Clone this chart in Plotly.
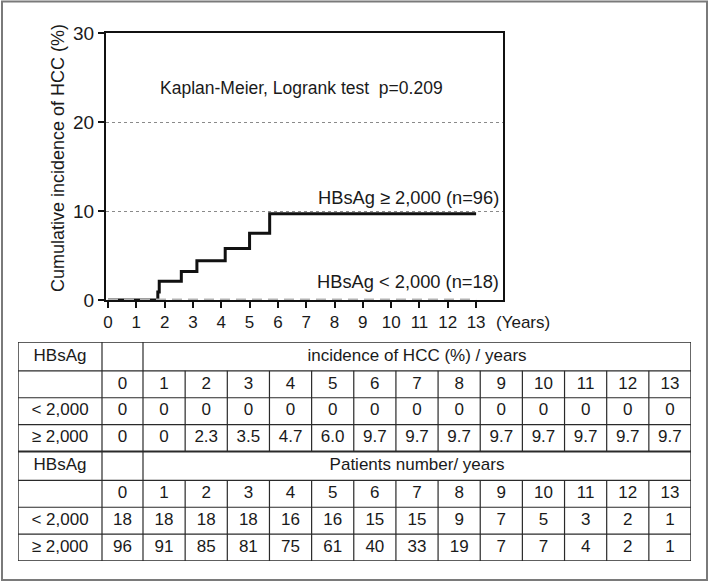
import plotly.graph_objects as go

# ---------------- data ----------------
years = list(range(14))
km_high_t = [0, 1.76, 1.81, 2.59, 3.14, 4.14, 5.0, 5.71, 13]
km_high_y = [0, 0.9, 2.1, 3.2, 4.4, 5.8, 7.5, 9.7, 9.7]
km_low_t = [0, 13]
km_low_y = [0, 0]
inc_low = [0, 0, 0, 0, 0, 0, 0, 0, 0, 0, 0, 0, 0, 0]
inc_high = [0, 0, 2.3, 3.5, 4.7, 6.0, 9.7, 9.7, 9.7, 9.7, 9.7, 9.7, 9.7, 9.7]
risk_low = [18, 18, 18, 18, 16, 16, 15, 15, 9, 7, 5, 3, 2, 1]
risk_high = [96, 91, 85, 81, 75, 61, 40, 33, 19, 7, 7, 4, 2, 1]
group_labels = ["< 2,000", "\u2265 2,000"]
y_ticks = [0, 10, 20, 30]

# ---------------- layout helpers ----------------
W, H = 709, 585
ML, MR, MT, MB = 18, 18, 33, 24
PW, PH = W - ML - MR, H - MT - MB


def px_x(p):
    return (p - ML) / PW


def px_y(p):
    return (H - MB - p) / PH


FONT = "Liberation Sans, Arial, sans-serif"
TXT = "#1a1a1a"

fig = go.Figure()

# KM curves
fig.add_trace(go.Scatter(x=km_high_t, y=km_high_y, mode="lines", line=dict(color="#111", width=3, shape="hv"),
                         cliponaxis=False, showlegend=False, hoverinfo="skip"))
fig.add_trace(go.Scatter(x=km_low_t, y=km_low_y, mode="lines", line=dict(color="#b3b3b3", width=3, dash="10px,6px"),
                         cliponaxis=False, showlegend=False, hoverinfo="skip"))


def ann(**kw):
    kw.setdefault("xanchor", "center")
    kw.setdefault("yanchor", "middle")
    fig.add_annotation(showarrow=False, **kw)


ann(x=6.85, y=23.8, xref="x", yref="y", text="Kaplan-Meier, Logrank test&nbsp;&nbsp;p=0.209",
    font=dict(family=FONT, size=17.5, color=TXT))
ann(x=13.88, y=11.5, xref="x", yref="y", text="HBsAg \u2265 2,000 (n=96)", xanchor="right",
    font=dict(family=FONT, size=18.3, color=TXT))
ann(x=13.88, y=2.05, xref="x", yref="y", text="HBsAg < 2,000 (n=18)", xanchor="right",
    font=dict(family=FONT, size=18.3, color=TXT))
ann(x=px_x(58), y=px_y(158), xref="paper", yref="paper", text="Cumulative incidence of HCC (%)",
    textangle=-90, font=dict(family=FONT, size=18, color=TXT))
ann(x=px_x(523), y=px_y(322), xref="paper", yref="paper", text="(Years)",
    font=dict(family=FONT, size=17, color=TXT))

# ---------------- table (drawn on its own axes) ----------------
LABEL_W, ZERO_W = 84, 41
YEAR_W = (PW - LABEL_W - ZERO_W) / 13
col_edges = [0, LABEL_W, LABEL_W + ZERO_W] + [LABEL_W + ZERO_W + YEAR_W * (k + 1) for k in range(13)]
col_centers = [(col_edges[i] + col_edges[i + 1]) / 2 for i in range(len(col_edges) - 1)]
HDR_H, ROW_H = 29, 27
BLOCK_H = HDR_H + 3 * ROW_H
TOTAL_H = 2 * BLOCK_H


def fmt_inc(v):
    return "0" if v == 0 else f"{v:.1f}"


blocks = [
    ("incidence of HCC (%) / years", [fmt_inc(v) for v in inc_low], [fmt_inc(v) for v in inc_high]),
    ("Patients number/ years", [str(v) for v in risk_low], [str(v) for v in risk_high]),
]

shapes = []
LC = "#2a2a2a"
for b, (title, low_vals, high_vals) in enumerate(blocks):
    top = b * BLOCK_H
    row_tops = [top, top + HDR_H, top + HDR_H + ROW_H, top + HDR_H + 2 * ROW_H, top + BLOCK_H]
    row_mid = [(row_tops[i] + row_tops[i + 1]) / 2 for i in range(4)]
    tx = [col_centers[0], (col_edges[2] + col_edges[-1]) / 2]
    ty = [row_mid[0], row_mid[0]]
    tt = ["HBsAg", title]
    for i, yv in enumerate(years):
        tx.append(col_centers[i + 1]); ty.append(row_mid[1]); tt.append(str(yv))
    for r, (lab, vals) in enumerate(zip(group_labels, [low_vals, high_vals])):
        tx.append(col_centers[0]); ty.append(row_mid[2 + r]); tt.append(lab)
        for i, v in enumerate(vals):
            tx.append(col_centers[i + 1]); ty.append(row_mid[2 + r]); tt.append(v)
    fig.add_trace(go.Scatter(x=tx, y=ty, text=tt, mode="text", xaxis="x2", yaxis="y2",
                             textfont=dict(family=FONT, size=17, color=TXT), showlegend=False,
                             hoverinfo="skip", cliponaxis=False))
    for yy in row_tops[1:4]:
        shapes.append(dict(type="line", xref="x2", yref="y2", x0=0, x1=PW, y0=yy, y1=yy,
                           line=dict(color=LC, width=1.2)))
    for xe in col_edges[1:3]:
        shapes.append(dict(type="line", xref="x2", yref="y2", x0=xe, x1=xe, y0=top, y1=top + BLOCK_H,
                           line=dict(color=LC, width=1.2)))
    for xe in col_edges[3:-1]:
        shapes.append(dict(type="line", xref="x2", yref="y2", x0=xe, x1=xe, y0=top + HDR_H, y1=top + BLOCK_H,
                           line=dict(color=LC, width=1.2)))

shapes.append(dict(type="line", xref="x2", yref="y2", x0=0, x1=PW, y0=BLOCK_H, y1=BLOCK_H,
                   line=dict(color=LC, width=2.2)))
shapes.append(dict(type="rect", xref="x2", yref="y2", x0=0, x1=PW, y0=0, y1=TOTAL_H,
                   line=dict(color=LC, width=1.4)))
# outer picture frame
shapes.append(dict(type="rect", xref="paper", yref="paper", x0=px_x(2), x1=px_x(707), y0=px_y(1.5), y1=px_y(580),
                   line=dict(color="#7a7a7a", width=2)))

fig.update_layout(
    width=W, height=H, margin=dict(l=ML, r=MR, t=MT, b=MB),
    paper_bgcolor="white", plot_bgcolor="white", shapes=shapes,
    xaxis=dict(domain=[px_x(106), px_x(503)], range=[-0.07, 13.95], tickmode="array", tickvals=years,
               ticks="outside", ticklen=6, tickwidth=1.5, tickcolor="#111", showline=True, linecolor="#111",
               linewidth=2, mirror=True, showgrid=False, zeroline=False, layer="below traces",
               tickfont=dict(family=FONT, size=17, color=TXT)),
    yaxis=dict(domain=[px_y(300), 1], range=[0, 30], tickmode="array", tickvals=y_ticks,
               ticks="outside", ticklen=6, tickwidth=1.5, tickcolor="#111", showline=True, linecolor="#111",
               linewidth=2, mirror=True, showgrid=True, gridcolor="#8a8a8a", griddash="dot", gridwidth=1,
               zeroline=False, layer="below traces", tickfont=dict(family=FONT, size=19, color=TXT)),
    xaxis2=dict(domain=[0, 1], range=[0, PW], visible=False, anchor="y2"),
    yaxis2=dict(domain=[0, px_y(342)], range=[TOTAL_H, 0], visible=False, anchor="x2"),
)

fig.write_html("out.html", config={"displayModeBar": False},
               post_script="document.body.style.margin='0';document.body.style.overflow='hidden';")
